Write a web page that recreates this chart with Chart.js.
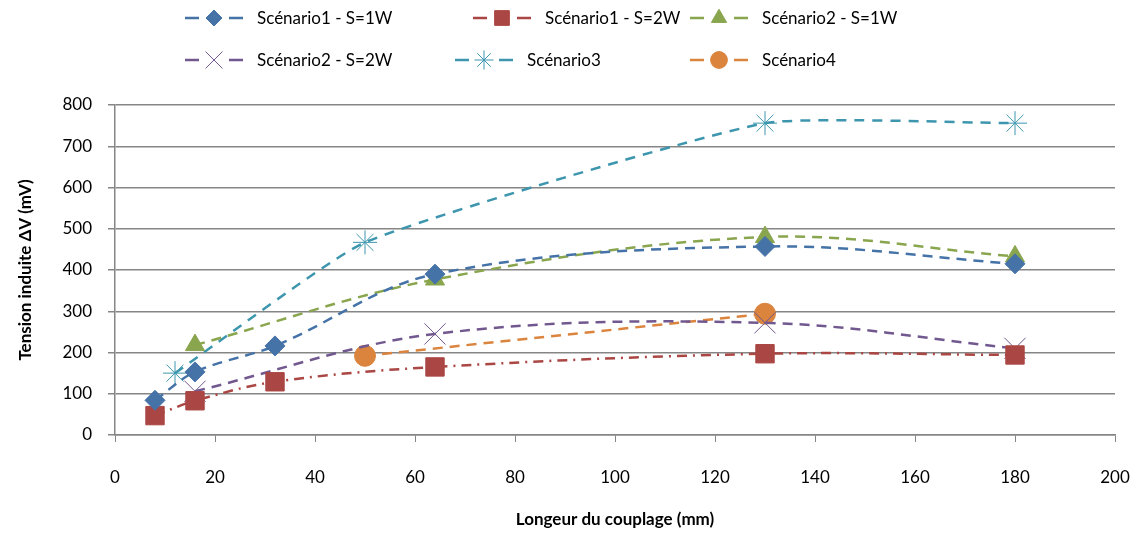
<!DOCTYPE html>
<html>
<head>
<meta charset="utf-8">
<script src="https://cdn.jsdelivr.net/npm/chart.js@4/dist/chart.umd.min.js"></script>
<style>
  html, body { margin: 0; padding: 0; background: #fff; }
  #wrap { width: 1139px; height: 533px; position: relative; }
</style>
</head>
<body>
<div id="wrap"><canvas id="chart"></canvas></div>
<script>
// Data
const xS1 = [8, 16, 32, 64, 130, 180];
const s1w1 = [84, 153, 216, 390, 457, 415];
const s1w2 = [47, 83, 129, 165, 197, 194];
const xS2 = [16, 64, 130, 180];
const s2w1 = [218, 377, 480, 433];
const s2w2 = [106, 245, 272, 210];
const xS3 = [12, 50, 130, 180];
const s3 = [150, 467, 756, 756];
const xS4 = [50, 130];
const s4 = [192, 294];

const xTicks = [0, 20, 40, 60, 80, 100, 120, 140, 160, 180, 200];
const yTicks = [0, 100, 200, 300, 400, 500, 600, 700, 800];

const labels = ['Scénario1 - S=1W', 'Scénario1 - S=2W', 'Scénario2 - S=1W',
                'Scénario2 - S=2W', 'Scénario3', 'Scénario4'];

// Colors for series
const colors = {
    blue: '#4572A7',
    red: '#AA4643',
    green: '#89A54E',
    purple: '#71588F',
    cyan: '#3D96AE',
    orange: '#DB843D'
};

function pts(xs, ys) {
    return xs.map((x, i) => ({ x: x, y: ys[i] }));
}

function series(label, xs, ys, color, style, radius, dash, tension) {
    return {
        label: label,
        data: pts(xs, ys),
        showLine: true,
        borderColor: color,
        backgroundColor: color,
        borderWidth: 2.5,
        borderDash: dash,
        tension: tension,
        pointStyle: style,
        pointRadius: radius,
        pointHoverRadius: radius,
        pointBorderColor: color,
        pointBackgroundColor: color,
        pointBorderWidth: 1
    };
}

const datasets = [
    series(labels[0], xS1, s1w1, colors.blue, 'rectRot', 10, [10, 7], 0.35),
    series(labels[1], xS1, s1w2, colors.red, 'rect', 13, [10, 6, 2, 6], 0.35),
    series(labels[2], xS2, s2w1, colors.green, 'triangle', 11, [10, 7], 0.35),
    series(labels[3], xS2, s2w2, colors.purple, 'crossRot', 15, [10, 7], 0.35),
    series(labels[4], xS3, s3, colors.cyan, 'star', 12, [10, 8], 0.15),
    series(labels[5], xS4, s4, colors.orange, 'circle', 10.5, [10, 7], 0.35)
];

// Legend drawn at fixed spots, like the original
const gridLegend = {
    id: 'gridLegend',
    afterDraw(chart) {
        const ctx = chart.ctx;
        const spots = [[185, 18], [473, 18], [690, 18], [185, 60], [455, 60], [690, 60]];
        ctx.save();
        ctx.font = '17px Lato, "Open Sans", sans-serif';
        ctx.textBaseline = 'middle';
        chart.data.datasets.forEach((ds, i) => {
            const x = spots[i][0];
            const y = spots[i][1];
            ctx.strokeStyle = ds.borderColor;
            ctx.fillStyle = ds.backgroundColor;
            ctx.lineWidth = 2.5;
            ctx.setLineDash([]);
            ctx.beginPath();
            ctx.moveTo(x, y); ctx.lineTo(x + 14, y);
            ctx.moveTo(x + 44, y); ctx.lineTo(x + 58, y);
            ctx.stroke();
            ctx.lineWidth = 1;
            Chart.helpers.drawPoint(ctx, {
                pointStyle: ds.pointStyle,
                radius: ds.pointRadius * 0.8,
                rotation: 0,
                borderWidth: 1
            }, x + 29, y);
            ctx.fillStyle = '#000';
            ctx.fillText(ds.label, x + 72, y + 1);
        });
        ctx.restore();
    }
};

const font = { family: 'Lato, "Open Sans", sans-serif', size: 17 };
const boldFont = { family: 'Lato, "Open Sans", sans-serif', size: 17, weight: 'bold' };

const ctx = document.getElementById('chart').getContext('2d');
new Chart(ctx, {
    type: 'scatter',
    data: { datasets: datasets },
    options: {
        responsive: true,
        maintainAspectRatio: false,
        animation: false,
        layout: { padding: { top: 105, right: 24, left: 11, bottom: 0 } },
        plugins: {
            legend: { display: false },
            tooltip: { enabled: false }
        },
        scales: {
            x: {
                type: 'linear',
                min: 0,
                max: 200,
                afterBuildTicks: (axis) => { axis.ticks = xTicks.map(v => ({ value: v })); },
                afterFit: (axis) => { axis.height = 98; axis.paddingLeft = 0; axis.paddingRight = 0; },
                grid: { display: true, drawOnChartArea: false, drawTicks: true, tickLength: 7, color: '#868686' },
                border: { color: '#868686', width: 1.5 },
                ticks: { color: '#000', font: font, padding: 25 },
                title: {
                    display: true,
                    text: 'Longeur du couplage (mm)',
                    color: '#000',
                    font: boldFont,
                    padding: { top: 0, bottom: 3 }
                }
            },
            y: {
                type: 'linear',
                min: 0,
                max: 800,
                afterBuildTicks: (axis) => { axis.ticks = yTicks.map(v => ({ value: v })); },
                afterFit: (axis) => { axis.width = 104; axis.paddingTop = 0; axis.paddingBottom = 0; },
                grid: { color: '#868686', lineWidth: 1.5, tickLength: 7 },
                border: { color: '#868686', width: 1.5 },
                ticks: { color: '#000', font: font, padding: 16 },
                title: {
                    display: true,
                    text: 'Tension induite ΔV (mV)',
                    color: '#000',
                    font: boldFont,
                    padding: { top: 4, bottom: 0 }
                }
            }
        }
    },
    plugins: [gridLegend]
});
</script>
</body>
</html>
